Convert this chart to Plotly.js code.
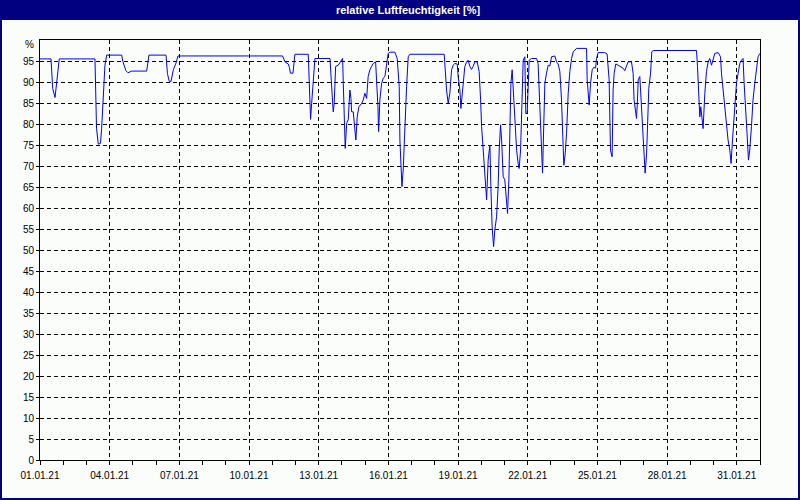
<!DOCTYPE html>
<html>
<head>
<meta charset="utf-8">
<script src="https://cdn.plot.ly/plotly-3.0.1.min.js"></script>
<style>
  html, body { margin: 0; padding: 0; background: #fbfdfb; }
  #chart { width: 800px; height: 500px; }
</style>
</head>
<body>
<div id="chart"></div>
<script>
// Title and axis labels
const chartTitle = "relative Luftfeuchtigkeit [%]";
const unitLabel = "%";
const startDate = "2021-01-01";
const endDate = "2021-02-01";
const yTickValues = [0,5,10,15,20,25,30,35,40,45,50,55,60,65,70,75,80,85,90,95];
const yTickLabels = ["0","5","10","15","20","25","30","35","40","45","50","55","60","65","70","75","80","85","90","95"];

// Measurement times: hours after 01.01.21 00:00
const hoursSinceStart = [
  0, 11.4, 13.1, 15.5, 17.3, 19.9, 56.8, 58.4, 60.2, 62.5, 63.7, 65.6, 67.1, 68.9,
  84.4, 85.7, 88.8, 90.9, 94.7, 110.2, 112.6, 130.2, 131.7, 133.6, 135.3, 137.9, 140.5, 142.6,
  250.7, 253.1, 256.5, 257.7, 258.8, 261.4, 263.4, 277.2, 278.2, 279.6, 280.7, 282.3, 284.1,
  299.6, 301.3, 303.0, 304.0, 305.5, 308.2, 311.7, 312.7, 313.4, 314.4, 315.4, 316.9, 318.5,
  320.2, 321.3, 322.0, 323.7, 325.4, 326.4, 327.8, 329.5, 332.3, 334.0, 335.7, 337.5, 339.1,
  340.9, 342.6, 344.3, 346.8, 347.8, 349.2, 349.9, 351.2, 353.0, 354.6, 356.4, 358.1, 359.8,
  361.6, 366.7, 369.1, 371.2, 371.9, 372.9, 374.0, 375.3, 377.0, 378.8, 380.5, 382.2,
  417.7, 418.7, 420.1, 421.8, 423.5, 425.3, 426.9, 428.7, 431.1, 432.1, 433.9, 434.9, 436.3,
  437.3, 439.0, 440.8, 442.4, 444.2, 445.9, 447.6, 449.4, 451.7, 453.8, 455.3, 456.3, 458.0,
  459.7, 461.5, 463.1, 464.9, 465.9, 467.2, 468.7, 470.0, 471.8, 473.4, 474.5, 475.9, 477.0,
  478.6, 480.3, 482.1, 483.1, 484.5, 485.5, 486.6, 487.9, 489.0, 490.7, 492.5, 494.1, 495.1,
  496.6, 497.6, 498.6, 499.3, 501.0, 502.0, 503.4, 504.4, 505.5, 507.9, 513.1, 514.7, 515.8,
  517.2, 518.3, 519.3, 520.6, 521.7, 523.4, 525.1, 526.8, 528.6, 532.0, 533.8, 535.4, 537.2,
  538.9, 540.0, 541.3, 542.7, 544.1, 545.8, 547.5, 549.3, 551.0, 554.5, 564.8, 565.4, 566.5,
  567.5, 568.9, 570.6, 572.3, 574.1, 575.1, 576.7, 583.6, 586.0, 588.1, 588.8, 589.5, 591.2,
  592.2, 593.3, 595.0, 597.4, 599.1, 602.5, 604.3, 606.0, 607.7, 611.2, 612.9, 613.9, 615.0,
  616.4, 617.4, 618.1, 619.8, 620.8, 622.2, 624.0, 625.3, 626.8, 627.8, 629.1, 630.9, 632.2,
  633.6, 678.4, 679.4, 680.7, 681.8, 682.8, 684.2, 685.2, 687.0, 688.7, 690.4, 692.1, 693.9,
  695.5, 697.3, 700.7, 703.2, 704.2, 705.9, 707.6, 709.4, 711.0, 712.8, 714.1, 715.6, 716.9,
  718.7, 719.7, 721.4, 723.1, 724.9, 726.5, 727.6, 729.3, 730.6, 732.1, 733.4, 735.2, 736.8,
  738.6, 740.3, 742.0, 743.8
];

// Relative humidity [%]
const humidity = [
  95.5, 95.5, 88.5, 86.3, 90.0, 95.5, 95.5, 79.0, 75.2, 75.4, 79.0, 88.0, 94.0, 96.4,
  96.4, 94.8, 92.7, 92.2, 92.6, 92.6, 96.4, 96.4, 92.0, 90.1, 90.1, 93.0, 94.5, 96.2,
  96.2, 94.8, 94.3, 93.5, 92.1, 92.1, 96.6, 96.6, 89.7, 81.1, 84.9, 89.7, 95.6,
  95.6, 88.9, 82.9, 84.9, 93.7, 94.0, 95.2, 95.6, 89.7, 78.6, 74.2, 80.2, 81.0,
  88.1, 86.1, 82.9, 82.9, 78.6, 76.2, 81.7, 84.1, 84.9, 85.7, 87.3, 86.1, 91.3,
  92.9, 93.7, 94.4, 94.8, 91.3, 84.1, 78.2, 85.7, 89.7, 90.9, 91.3, 94.4, 96.8,
  97.1, 97.1, 95.6, 88.9, 76.2, 69.8, 65.1, 69.0, 79.4, 88.9, 96.0, 96.6,
  96.6, 92.9, 88.1, 84.9, 87.3, 92.9, 94.0, 94.4, 94.3, 91.3, 88.1, 83.7, 87.3,
  89.7, 93.7, 94.8, 95.2, 93.7, 93.0, 93.7, 94.8, 94.8, 92.5, 85.7, 79.4, 73.8,
  68.3, 61.9, 71.4, 75.0, 65.1, 55.6, 50.8, 54.8, 57.9, 65.1, 73.8, 79.8, 76.2,
  67.5, 66.7, 60.3, 58.7, 66.7, 76.2, 89.7, 92.9, 88.1, 80.2, 73.8, 70.6, 69.4,
  73.8, 81.0, 89.7, 95.2, 96.0, 82.5, 82.5, 89.7, 95.2, 95.6, 95.6, 94.4, 88.1,
  77.8, 70.6, 68.3, 80.2, 89.7, 92.1, 94.0, 93.8, 96.0, 96.2, 94.8, 94.3, 92.5,
  85.7, 77.8, 70.2, 72.9, 77.8, 87.3, 92.5, 95.6, 97.2, 98.0, 98.0, 90.5, 87.3,
  84.5, 89.7, 92.9, 93.5, 93.3, 95.6, 97.0, 97.0, 96.7, 90.5, 79.4, 73.8, 72.2,
  88.1, 92.1, 94.3, 94.0, 93.7, 93.3, 92.7, 94.0, 94.8, 94.8, 92.1, 85.7, 83.3,
  81.3, 85.7, 90.5, 91.3, 86.5, 80.2, 74.6, 68.3, 72.9, 80.2, 88.5, 92.1, 97.2,
  97.5, 97.5, 93.7, 88.1, 81.7, 84.1, 81.0, 78.9, 87.3, 92.5, 94.8, 95.6, 94.0,
  95.2, 96.8, 97.0, 96.0, 92.1, 88.1, 83.3, 79.4, 76.2, 73.8, 70.6, 76.2, 80.2,
  84.9, 89.7, 92.1, 94.4, 95.2, 95.6, 89.7, 84.1, 77.8, 71.4, 73.8, 79.4, 85.7,
  89.7, 92.9, 96.0, 96.8
];

const t0 = Date.UTC(2021, 0, 1);
const times = hoursSinceStart.map(h => new Date(t0 + h * 3600000));

const W = 800, H = 500, ML = 40, MR = 40, MT = 40, MB = 40;
const PW = W - ML - MR, PH = H - MT - MB;
const px = v => (v - ML) / PW;
const py = v => (H - MB - v) / PH;

const navy = "#000080";
const tickFont = { family: "Liberation Sans, Arial, sans-serif", size: 10, color: "#000000" };

const trace = {
  x: times,
  y: humidity,
  type: "scatter",
  mode: "lines",
  line: { color: "#0000ff", width: 1, shape: "linear" },
  hoverinfo: "skip"
};

const layout = {
  width: W,
  height: H,
  margin: { l: ML, r: MR, t: MT, b: MB, pad: 0 },
  paper_bgcolor: "#fbfdfb",
  plot_bgcolor: "#fbfdfb",
  showlegend: false,
  title: {
    text: chartTitle,
    font: { family: "Liberation Sans, Arial, sans-serif", size: 11, color: "#ffffff", weight: "bold" },
    x: px(408), xanchor: "center", xref: "paper",
    y: 1 - 10 / H, yanchor: "middle", yref: "container"
  },
  xaxis: {
    type: "date",
    range: [startDate, endDate],
    tick0: startDate,
    dtick: 3 * 86400000,
    tickformat: "%d.%m.%y",
    ticks: "outside",
    ticklen: 4,
    tickcolor: "#000000",
    tickfont: tickFont,
    ticklabelstandoff: 2,
    showline: true,
    linecolor: "#000000",
    linewidth: 1,
    mirror: true,
    showgrid: true,
    gridcolor: "#000000",
    gridwidth: 1,
    griddash: "4px,3px",
    zeroline: false,
    minor: { dtick: 86400000, tick0: startDate, ticks: "outside", ticklen: 4, tickcolor: "#000000", showgrid: false }
  },
  yaxis: {
    range: [0, 100],
    tickmode: "array",
    tickvals: yTickValues,
    ticktext: yTickLabels,
    ticks: "outside",
    ticklen: 3,
    tickcolor: "#000000",
    tickfont: tickFont,
    showline: true,
    linecolor: "#000000",
    linewidth: 1,
    mirror: true,
    showgrid: true,
    gridcolor: "#000000",
    gridwidth: 1,
    griddash: "4px,3px",
    zeroline: false
  },
  annotations: [
    { text: unitLabel, xref: "paper", yref: "y", x: 0, y: 99, xanchor: "right", yanchor: "middle",
      xshift: -4, showarrow: false, font: tickFont }
  ],
  shapes: [
    { type: "rect", xref: "paper", yref: "paper", layer: "above",
      x0: px(0), x1: px(W), y0: py(20), y1: py(0),
      fillcolor: navy, line: { width: 0 } },
    { type: "rect", xref: "paper", yref: "paper", layer: "above",
      x0: px(1), x1: px(W - 1), y0: py(H - 1), y1: py(1),
      fillcolor: "rgba(0,0,0,0)", line: { color: navy, width: 2 } }
  ]
};

Plotly.newPlot("chart", [trace], layout, { staticPlot: true, displayModeBar: false });
</script>
</body>
</html>
